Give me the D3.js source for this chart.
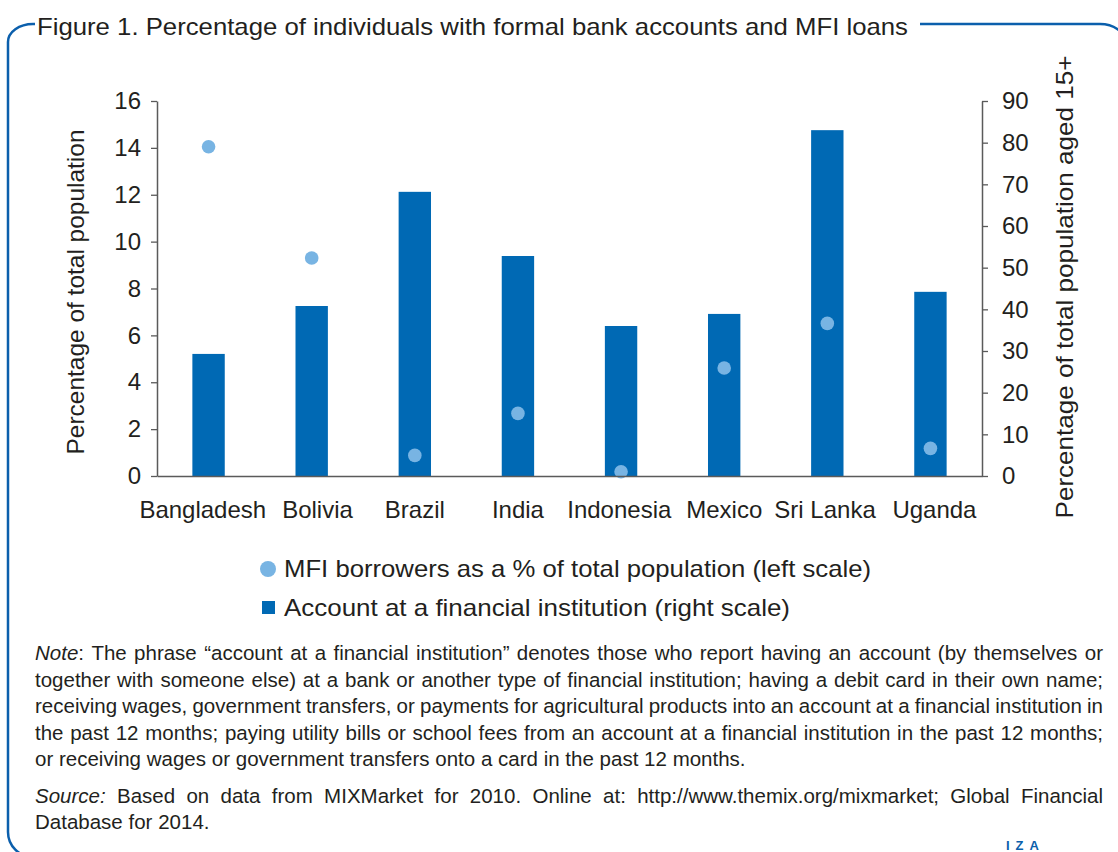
<!DOCTYPE html>
<html>
<head>
<meta charset="utf-8">
<script src="https://cdn.jsdelivr.net/npm/d3@7"></script>
<style>
  body { margin: 0; background: #fff; }
  svg { display: block; }
  text { font-family: "Liberation Sans", Arial, sans-serif; fill: #231f20; }
</style>
</head>
<body>
<svg id="chart" width="1118" height="852"></svg>
<script>
// Country categories and the two series
const categories = ["Bangladesh", "Bolivia", "Brazil", "India", "Indonesia", "Mexico", "Sri Lanka", "Uganda"];
// MFI borrowers as a % of total population (left scale)
const mfiBorrowers = [14.05, 9.3, 0.88, 2.67, 0.18, 4.61, 6.51, 1.18];
// Account at a financial institution, % of population aged 15+ (right scale)
const accountShare = [29.3, 40.8, 68.2, 52.8, 36.0, 38.9, 83.0, 44.2];
const leftTicks = [0, 2, 4, 6, 8, 10, 12, 14, 16];
const rightTicks = [0, 10, 20, 30, 40, 50, 60, 70, 80, 90];

const titleText = "Figure 1. Percentage of individuals with formal bank accounts and MFI loans";
const leftAxisTitle = "Percentage of total population";
const rightAxisTitle = "Percentage of total population aged 15+";
const legendDots = "MFI borrowers as a % of total population (left scale)";
const legendBars = "Account at a financial institution (right scale)";
const noteLines = [
  "Note: The phrase \u201caccount at a financial institution\u201d denotes those who report having an account (by themselves or",
  "together with someone else) at a bank or another type of financial institution; having a debit card in their own name;",
  "receiving wages, government transfers, or payments for agricultural products into an account at a financial institution in",
  "the past 12 months; paying utility bills or school fees from an account at a financial institution in the past 12 months;",
  "or receiving wages or government transfers onto a card in the past 12 months."
];
const sourceLines = [
  "Source: Based on data from MIXMarket for 2010. Online at: http://www.themix.org/mixmarket; Global Financial",
  "Database for 2014."
];

const BAR = "#0069b4";
const DOT = "#78b4e3";
const FRAME = "#0b5fac";
const AXIS = "#5a5a5a";

const svg = d3.select("#chart");

// Rounded frame around the figure (bottom and right edges run past the page)
svg.append("path")
  .attr("d", "M 35 24 H 33 A 25 18 0 0 0 8 42 V 832 A 25 25 0 0 0 33 857 H 1100")
  .attr("fill", "none").attr("stroke", FRAME).attr("stroke-width", 2.5);
svg.append("path")
  .attr("d", "M 920 24 H 1100 A 25 18 0 0 1 1125 42 V 900")
  .attr("fill", "none").attr("stroke", FRAME).attr("stroke-width", 2.5);

// Title
svg.append("text")
  .attr("x", 37).attr("y", 35)
  .attr("font-size", 24)
  .attr("textLength", 871).attr("lengthAdjust", "spacingAndGlyphs")
  .text(titleText);

// Scales
const plot = { left: 157, right: 982, top: 101, bottom: 476 };
const x = d3.scaleBand().domain(categories)
  .range([plot.left, plot.right]).paddingInner(0.686).paddingOuter(0.343);
const yL = d3.scaleLinear().domain([0, 16]).range([plot.bottom, plot.top]);
const yR = d3.scaleLinear().domain([0, 90]).range([plot.bottom, plot.top]);

// Bars (right scale)
svg.append("g").selectAll("rect")
  .data(categories)
  .join("rect")
  .attr("x", d => x(d))
  .attr("width", x.bandwidth())
  .attr("y", (d, i) => yR(accountShare[i]))
  .attr("height", (d, i) => yR(0) - yR(accountShare[i]))
  .attr("fill", BAR);

// Dots (left scale)
svg.append("g").selectAll("circle")
  .data(categories)
  .join("circle")
  .attr("cx", d => x(d) + x.bandwidth() / 2)
  .attr("cy", (d, i) => yL(mfiBorrowers[i]))
  .attr("r", 6.8)
  .attr("fill", DOT);

function styleAxis(g) {
  g.attr("font-family", null).attr("font-size", null);
  g.selectAll(".domain").attr("stroke", AXIS).attr("stroke-width", 1.5);
  g.selectAll(".tick line").attr("stroke", AXIS).attr("stroke-width", 1.3);
  g.selectAll(".tick text").attr("font-size", 24).attr("fill", "#231f20");
}

// Left axis
svg.append("g")
  .attr("transform", `translate(${plot.left},0)`)
  .call(d3.axisLeft(yL).tickValues(leftTicks).tickSize(6).tickSizeOuter(0).tickPadding(10))
  .call(styleAxis);

// Right axis
svg.append("g")
  .attr("transform", `translate(${plot.right},0)`)
  .call(d3.axisRight(yR).tickValues(rightTicks).tickSize(6).tickSizeOuter(0).tickPadding(14))
  .call(styleAxis);

// Category baseline and labels
const xAxis = svg.append("g")
  .attr("transform", `translate(0,${plot.bottom})`)
  .call(d3.axisBottom(x).tickSize(0).tickSizeOuter(0).tickPadding(30))
  .call(styleAxis);
xAxis.selectAll(".tick text").attr("dy", "0.5em");

// Keep neighbouring category labels at least a word-gap apart
(function spreadLabels() {
  const minGap = 16;
  const labels = xAxis.selectAll(".tick text").nodes();
  const shift = labels.map(() => 0);
  const boxes = labels.map(n => n.getBBox());
  for (let i = 0; i < labels.length - 1; i++) {
    const tA = x(categories[i]) + x.bandwidth() / 2;
    const tB = x(categories[i + 1]) + x.bandwidth() / 2;
    const rightA = tA + boxes[i].x + boxes[i].width + shift[i];
    const leftB = tB + boxes[i + 1].x + shift[i + 1];
    const over = minGap - (leftB - rightA);
    if (over > 0) { shift[i] -= over / 2; shift[i + 1] += over / 2; }
  }
  labels.forEach((n, i) => d3.select(n).attr("x", shift[i]));
})();

// Axis titles
svg.append("text")
  .attr("transform", "translate(84,292) rotate(-90)")
  .attr("text-anchor", "middle")
  .attr("font-size", 24)
  .attr("textLength", 325).attr("lengthAdjust", "spacingAndGlyphs")
  .text(leftAxisTitle);
svg.append("text")
  .attr("transform", "translate(1073,287) rotate(-90)")
  .attr("text-anchor", "middle")
  .attr("font-size", 24)
  .attr("textLength", 463).attr("lengthAdjust", "spacingAndGlyphs")
  .text(rightAxisTitle);

// Legend
const legend = svg.append("g");
legend.append("circle").attr("cx", 268).attr("cy", 569).attr("r", 8).attr("fill", DOT);
legend.append("text").attr("x", 284).attr("y", 577).attr("font-size", 24)
  .attr("textLength", 587).attr("lengthAdjust", "spacingAndGlyphs").text(legendDots);
legend.append("rect").attr("x", 262).attr("y", 601).attr("width", 13).attr("height", 13).attr("fill", BAR);
legend.append("text").attr("x", 284).attr("y", 616).attr("font-size", 24)
  .attr("textLength", 506).attr("lengthAdjust", "spacingAndGlyphs").text(legendBars);

// Justified paragraph: words spread across the column, last line left-aligned
function paragraph(lines, opts) {
  const g = svg.append("g");
  lines.forEach((line, i) => {
    const words = line.split(" ");
    const y = opts.y0 + i * opts.lh;
    const nodes = words.map((w, j) => {
      const t = g.append("text").attr("y", y)
        .attr("font-size", opts.size);
      if (i === 0 && j === 0 && opts.italic) {
        t.append("tspan").attr("font-style", "italic").text(opts.italic);
        const rest = w.slice(opts.italic.length);
        if (rest) t.append("tspan").text(rest);
      } else {
        t.text(w);
      }
      return t;
    });
    const widths = nodes.map(n => n.node().getComputedTextLength());
    const total = d3.sum(widths);
    const last = i === lines.length - 1;
    const gap = last ? opts.size * 0.28 : (opts.x1 - opts.x0 - total) / (words.length - 1);
    let cx = opts.x0;
    nodes.forEach((n, j) => { n.attr("x", cx); cx += widths[j] + gap; });
  });
}

paragraph(noteLines, { x0: 35, x1: 1103, y0: 660, lh: 26.5, size: 20.5, italic: "Note" });
paragraph(sourceLines, { x0: 35, x1: 1103, y0: 803, lh: 26, size: 20.5, italic: "Source:" });

// Publisher mark
svg.append("text")
  .attr("x", 1006).attr("y", 850)
  .attr("font-size", 13).attr("font-weight", "bold")
  .attr("letter-spacing", 6)
  .style("fill", FRAME)
  .text("IZA");
</script>
</body>
</html>
